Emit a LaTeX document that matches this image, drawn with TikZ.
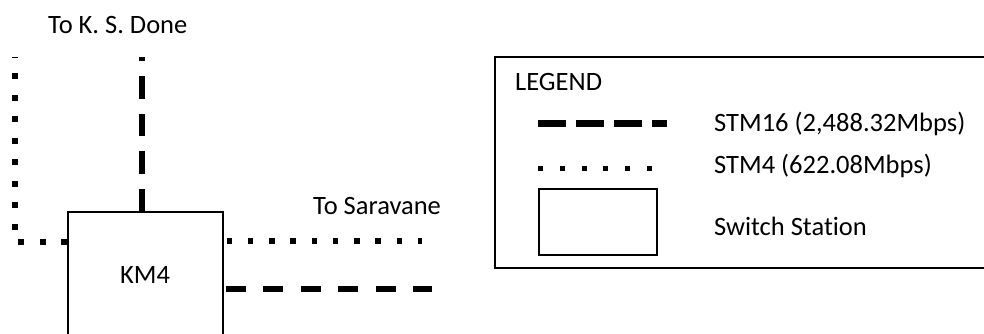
\documentclass[tikz,border=0pt]{standalone}
\usepackage{fontspec}
\setmainfont{Carlito}[Ligatures={NoCommon}]
\begin{document}
\begin{tikzpicture}[x=1pt,y=-1pt,
  lbl/.style={inner sep=0pt, font=\fontsize{26.5}{30}\selectfont},
  station/.style={draw, line width=2pt, inner sep=0pt},
  stmsixteen/.style={line width=6.5pt, dash pattern=on 22.5pt off 15pt},
  stmfour/.style={line width=5.5pt, dash pattern=on 6pt off 15.5pt},
]
\useasboundingbox (0,0) rectangle (984,333);
\clip (0,0) rectangle (984,333);

% switch station
\node[station, minimum width=155pt, minimum height=126pt] (km4) at (145.5,275) {};
\node[lbl, anchor=base] (km4lbl) at (145,283) {KM4};

% free ends of the links
\coordinate (up) at (142,57);
\coordinate (lc) at (15,242);
\coordinate (lt) at (15,57);
\coordinate (sar) at (422,241);
\coordinate (east) at (432,289);

% STM16 towards K. S. Done
\draw[stmsixteen] (km4.north -| up) -- (up);
% STM4 to the west
\draw[stmfour] (km4.west |- lc) -- (lc) -- (lt);
% STM4 towards Saravane
\draw[line width=5.5pt, dash pattern=on 5.5pt off 15.75pt, dash phase=18.75pt] (km4.east |- sar) -- (sar);
% STM16 to the east
\draw[line width=6.5pt, dash pattern=on 20pt off 17.4pt, dash phase=35.4pt] (km4.east |- east) -- (east);

\node[lbl, anchor=base west] (ksd) at (48,33) {To K. S. Done};
\node[lbl, anchor=base west] (sarlbl) at (313,214) {To Saravane};

% legend
\draw[line width=2.5pt] (495,57) rectangle (1000,268);
\node[lbl, anchor=base west] (leg) at (515,90) {LEGEND};
\coordinate (la) at (538,123);
\coordinate (lb) at (667,123);
\draw[line width=7pt, dash pattern=on 28pt off 10pt] (la) -- (lb);
\coordinate (lc2) at (538,168);
\coordinate (ld) at (652,168);
\draw[line width=5pt, dash pattern=on 5pt off 16.8pt] (lc2) -- (ld);
\node[station, minimum width=118pt, minimum height=66pt] (lsw) at (598,222) {};
\node[lbl, anchor=base west] (l1) at (714,131) {STM16 (2,488.32Mbps)};
\node[lbl, anchor=base west] (l2) at (714,173) {STM4 (622.08Mbps)};
\node[lbl, anchor=base west] (l3) at (714,235) {Switch Station};
\end{tikzpicture}
\end{document}
